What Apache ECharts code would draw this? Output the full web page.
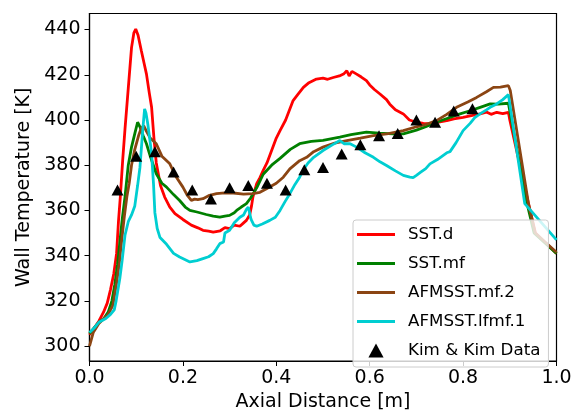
<!DOCTYPE html>
<html><head><meta charset="utf-8">
<script src="https://cdn.jsdelivr.net/npm/echarts@6/dist/echarts.min.js"></script>
<style>html,body{margin:0;padding:0;background:#fff}#c{width:577px;height:412px}</style>
</head><body><div id="c"></div>
<script>
// ---- data ----
const xTickLabels = [0, 0.2, 0.4, 0.6, 0.8, 1.0];
const yTickLabels = [300, 320, 340, 360, 380, 400, 420, 440];
const seriesNames = ['SST.d', 'SST.mf', 'AFMSST.mf.2', 'AFMSST.lfmf.1', 'Kim & Kim Data'];

const sstD_x = [0, 0.01, 0.02, 0.03, 0.038, 0.045, 0.052, 0.058, 0.062, 0.066, 0.071, 0.076, 0.083, 0.09, 0.095, 0.099, 0.104, 0.111, 0.117, 0.122, 0.128, 0.133, 0.138, 0.143, 0.152, 0.161, 0.172, 0.183, 0.2, 0.218, 0.232, 0.243, 0.255, 0.265, 0.28, 0.29, 0.30, 0.31, 0.322, 0.33, 0.336, 0.343, 0.347, 0.35, 0.358, 0.365, 0.372, 0.38, 0.39, 0.40, 0.408, 0.42, 0.436, 0.445, 0.458, 0.47, 0.486, 0.50, 0.51, 0.522, 0.535, 0.545, 0.551, 0.556, 0.562, 0.572, 0.582, 0.593, 0.60, 0.61, 0.622, 0.636, 0.643, 0.655, 0.672, 0.685, 0.70, 0.715, 0.729, 0.745, 0.765, 0.78, 0.80, 0.82, 0.836, 0.85, 0.86, 0.872, 0.885, 0.897, 0.90, 0.94, 0.955, 1.0];
const sstD_y = [305, 308, 311, 315, 319, 325, 332, 341, 355, 366, 382, 396, 414, 432, 438.5, 440.2, 437.5, 430.6, 425, 420.3, 412, 405.6, 392, 381, 371, 365.9, 361.5, 358.6, 356, 353.5, 352.3, 351.2, 350.8, 350.4, 351, 352.4, 352, 353.5, 353, 354.5, 355.6, 358, 362, 366, 371.8, 374.5, 377.7, 381, 386.5, 392, 395.3, 400, 408.6, 411, 414.4, 416.5, 418.1, 418.5, 418, 418.8, 419.5, 420.5, 421.8, 419.5, 421.5, 420.3, 419, 417.4, 415.5, 413.5, 411.5, 409, 407, 404.5, 402.7, 400, 399, 398.5, 398.3, 399, 399.7, 400.5, 401.2, 402, 402.7, 403.5, 402.5, 403.4, 402.8, 403.4, 400, 363, 350, 341];

const sstMf_x = [0, 0.01, 0.02, 0.03, 0.04, 0.048, 0.054, 0.06, 0.065, 0.07, 0.076, 0.083, 0.09, 0.097, 0.103, 0.108, 0.115, 0.122, 0.13, 0.143, 0.155, 0.165, 0.18, 0.193, 0.205, 0.215, 0.23, 0.25, 0.265, 0.279, 0.29, 0.30, 0.31, 0.315, 0.325, 0.336, 0.345, 0.358, 0.372, 0.39, 0.408, 0.43, 0.45, 0.475, 0.50, 0.536, 0.56, 0.593, 0.62, 0.65, 0.672, 0.70, 0.72, 0.743, 0.77, 0.79, 0.815, 0.835, 0.858, 0.875, 0.897, 0.90, 0.937, 0.952, 1.0];
const sstMf_y = [305.5, 308, 310.5, 312, 315, 320, 327, 336, 346, 356, 366, 380, 388, 394, 399, 397, 393, 389.5, 384, 376.2, 372, 370.3, 367, 364.4, 361.5, 360, 359.3, 358.2, 357.5, 357, 357.5, 357.8, 359, 360, 361.5, 363, 365.5, 370, 376, 380, 383, 387, 389.5, 390.5, 391, 392.4, 393.5, 394.6, 394.2, 393.9, 393.9, 395.5, 397, 399, 401, 402.5, 404.1, 405.5, 407.1, 407, 407.4, 404, 363, 350, 341];

const afmMf2_x = [0, 0.004, 0.008, 0.02, 0.03, 0.04, 0.05, 0.058, 0.064, 0.069, 0.075, 0.08, 0.085, 0.09, 0.097, 0.105, 0.111, 0.116, 0.122, 0.13, 0.143, 0.155, 0.172, 0.185, 0.2, 0.21, 0.218, 0.225, 0.232, 0.243, 0.255, 0.272, 0.29, 0.308, 0.33, 0.35, 0.365, 0.379, 0.40, 0.415, 0.429, 0.45, 0.465, 0.48, 0.50, 0.525, 0.551, 0.58, 0.608, 0.64, 0.672, 0.70, 0.72, 0.743, 0.765, 0.786, 0.81, 0.829, 0.85, 0.865, 0.88, 0.897, 0.901, 0.94, 0.954, 1.0];
const afmMf2_y = [300, 303, 306, 310, 312, 314, 318, 328, 337, 347, 358, 366, 372, 380, 387, 393, 396.5, 397.5, 395, 392, 389.5, 384, 380.6, 375, 370.3, 366.5, 364.4, 365, 364.8, 365.2, 366.5, 367.4, 367.8, 367.7, 367.2, 367.4, 368, 369.6, 372, 374.7, 378.4, 382, 383.5, 386, 388, 389.8, 390.9, 392, 393.1, 394, 395.3, 397, 398, 399.7, 402.5, 405.6, 408, 410, 412.5, 414.4, 414.5, 415.2, 413, 363, 350, 341.5];

const afmLfmf1_x = [0, 0.01, 0.02, 0.035, 0.045, 0.053, 0.057, 0.065, 0.07, 0.076, 0.083, 0.09, 0.097, 0.103, 0.108, 0.112, 0.115, 0.118, 0.121, 0.125, 0.13, 0.133, 0.137, 0.14, 0.145, 0.151, 0.165, 0.18, 0.193, 0.215, 0.23, 0.243, 0.255, 0.265, 0.272, 0.279, 0.287, 0.29, 0.30, 0.31, 0.322, 0.33, 0.336, 0.34, 0.346, 0.352, 0.358, 0.37, 0.386, 0.398, 0.408, 0.419, 0.429, 0.44, 0.45, 0.458, 0.468, 0.48, 0.50, 0.52, 0.536, 0.545, 0.558, 0.572, 0.59, 0.608, 0.622, 0.636, 0.655, 0.672, 0.686, 0.693, 0.70, 0.71, 0.72, 0.729, 0.745, 0.765, 0.772, 0.785, 0.80, 0.815, 0.825, 0.836, 0.85, 0.858, 0.872, 0.885, 0.897, 0.932, 1.0];
const afmLfmf1_y = [306, 308, 310.5, 312.2, 314, 316, 320, 330, 338, 349, 355, 358, 362, 371, 379, 390, 398, 404.9, 403, 398, 390, 385, 372, 359, 352, 348, 345, 341, 339.4, 337.2, 337.8, 338.7, 339.5, 340.9, 343, 345.3, 346, 350, 351.2, 354.5, 357, 358, 360.5, 361.5, 356, 353.5, 353, 354, 355.6, 357, 360, 364, 367.4, 371.5, 374.7, 378, 381, 383.5, 386.5, 389, 390.9, 389.5, 389.5, 388, 385.5, 383.5, 381.5, 379.9, 377.5, 375.5, 374.7, 374.5, 375.5, 377, 378.5, 380.6, 382.5, 385.5, 386, 390, 395.3, 398.5, 401, 402.7, 404.5, 405.6, 407.1, 409, 411.2, 363, 347];

const kim_x = [0.06, 0.10, 0.14, 0.18, 0.22, 0.26, 0.30, 0.34, 0.38, 0.42, 0.46, 0.50, 0.54, 0.58, 0.62, 0.66, 0.70, 0.74, 0.78, 0.82];
const kim_y = [369, 384, 386, 377, 369, 365, 370, 371, 372, 369, 378, 379, 385, 389, 393, 394, 400, 399, 404, 405];

// ---- chart ----
function pairs(xs, ys) { return xs.map((x, i) => [x, ys[i]]); }
const FONT = 'DejaVu Sans';
const lineIcon = 'path://M0,0H38V3H0Z';
const triIcon = 'path://M6.5,0L13,12L0,12Z';
const colors = ['#ff0000', '#008000', '#8b4513', '#00ced1', '#000000'];
const lineData = [pairs(sstD_x, sstD_y), pairs(sstMf_x, sstMf_y), pairs(afmMf2_x, afmMf2_y), pairs(afmLfmf1_x, afmLfmf1_y)];

const series = lineData.map((d, i) => ({
  name: seriesNames[i], type: 'line', data: d, symbol: 'none', smooth: false,
  lineStyle: { width: 2.8, color: colors[i] }, itemStyle: { color: colors[i] },
  z: 2 + i * 0.1
}));
series.push({
  name: seriesNames[4], type: 'scatter', data: pairs(kim_x, kim_y),
  symbol: 'triangle', symbolSize: [12, 11], itemStyle: { color: '#000', opacity: 1 }, z: 3
});

const chart = echarts.init(document.getElementById('c'), null, { renderer: 'canvas' });
chart.setOption({
  animation: false,
  backgroundColor: '#fff',
  textStyle: { fontFamily: FONT },
  grid: { left: 89.5, right: 20.5, top: 13.5, bottom: 51, outerBoundsMode: 'none', containLabel: false, show: true, borderColor: '#000', borderWidth: 1.2, backgroundColor: 'transparent' },
  xAxis: {
    type: 'value', min: 0, max: 1, interval: 0.2,
    name: 'Axial Distance [m]', nameLocation: 'middle', nameGap: 30,
    nameTextStyle: { fontFamily: FONT, fontSize: 19, color: '#000' },
    axisLine: { show: true, lineStyle: { color: '#000', width: 1.2 } },
    axisTick: { show: true, length: 5, lineStyle: { color: '#000', width: 1 } },
    axisLabel: { fontFamily: FONT, fontSize: 19, color: '#000', margin: 8, formatter: v => v.toFixed(1), customValues: xTickLabels },
    splitLine: { show: false }
  },
  yAxis: {
    type: 'value', min: 293.4, max: 447.1,
    name: 'Wall Temperature [K]', nameLocation: 'middle', nameGap: 52, nameRotate: 90,
    nameTextStyle: { fontFamily: FONT, fontSize: 19, color: '#000' },
    axisLine: { show: true, lineStyle: { color: '#000', width: 1.2 } },
    axisTick: { show: true, length: 5, lineStyle: { color: '#000', width: 1 }, customValues: yTickLabels },
    axisLabel: { fontFamily: FONT, fontSize: 19, color: '#000', margin: 9, customValues: yTickLabels },
    splitLine: { show: false }
  },
  legend: {
    orient: 'vertical', left: 353, top: 220,
    padding: [6, 8, 8, 4],
    itemWidth: 38, itemHeight: 14, itemGap: 12,
    backgroundColor: 'rgba(255,255,255,0.8)', borderColor: '#cccccc', borderWidth: 1, borderRadius: 3,
    itemStyle: { opacity: 1 },
    textStyle: { fontFamily: FONT, fontSize: 16.7, color: '#000', padding: [0, 0, 0, 8], lineHeight: 14 },
    data: [
      { name: seriesNames[0], icon: lineIcon },
      { name: seriesNames[1], icon: lineIcon },
      { name: seriesNames[2], icon: lineIcon },
      { name: seriesNames[3], icon: lineIcon },
      { name: seriesNames[4], icon: triIcon }
    ]
  },
  series: series
});
</script>
</body></html>
